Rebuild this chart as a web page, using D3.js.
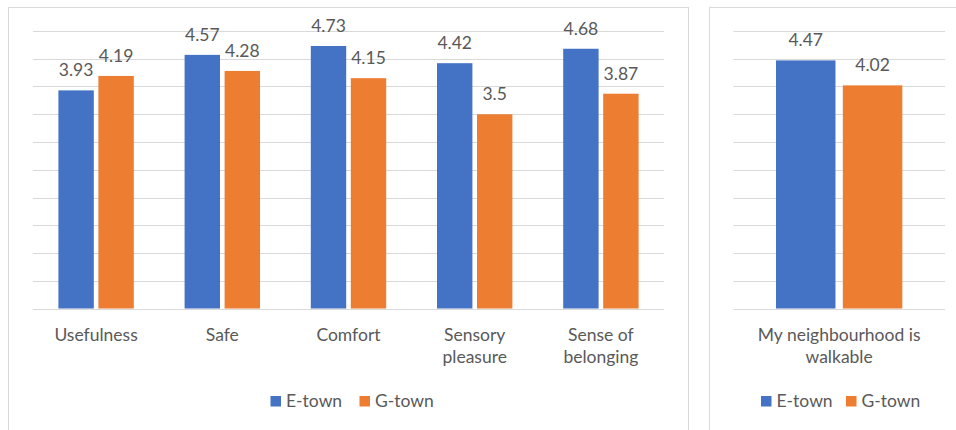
<!DOCTYPE html>
<html>
<head>
<meta charset="utf-8">
<script src="https://cdn.jsdelivr.net/npm/d3@7"></script>
<style>
  html, body { margin: 0; padding: 0; background: #ffffff; }
  svg { display: block; }
  text { font-family: Lato, "Open Sans", sans-serif; fill: #595959; }
</style>
</head>
<body>
<svg id="chart" width="956" height="430"></svg>
<script>
// Mean ratings per aspect for the two neighbourhoods
const series = ["E-town", "G-town"];
const colors = ["#4472C4", "#ED7D31"];

const aspectCategories = [["Usefulness"], ["Safe"], ["Comfort"], ["Sensory", "pleasure"], ["Sense of", "belonging"]];
const eTownAspects = [3.93, 4.57, 4.73, 4.42, 4.68];
const gTownAspects = [4.19, 4.28, 4.15, 3.5, 3.87];

const walkCategories = [["My neighbourhood is", "walkable"]];
const eTownWalk = [4.47];
const gTownWalk = [4.02];

const yTicks = [0, 0.5, 1, 1.5, 2, 2.5, 3, 3.5, 4, 4.5, 5];

const svg = d3.select("#chart");
const FS = 17.5;

function panel(cfg) {
  const g = svg.append("g");

  // panel frame
  g.append("rect")
    .attr("x", cfg.frame[0]).attr("y", cfg.frame[1])
    .attr("width", cfg.frame[2]).attr("height", cfg.frame[3])
    .attr("fill", "none").attr("stroke", "#d9d9d9").attr("stroke-width", 1);

  const y = d3.scaleLinear().domain([0, 5]).range([cfg.bottom, cfg.top]);
  const keys = cfg.categories.map(c => c.join(" "));
  const x0 = d3.scaleBand().domain(keys).range([cfg.left, cfg.right]).paddingInner(0).paddingOuter(0);
  const inner = d3.scaleBand().domain(series)
    .range([cfg.barOffset, x0.bandwidth() - cfg.barOffset]).paddingInner(cfg.innerPad);

  // horizontal gridlines
  g.append("g").selectAll("line").data(yTicks).join("line")
    .attr("x1", cfg.left).attr("x2", cfg.right)
    .attr("y1", d => Math.round(y(d)) + 0.5).attr("y2", d => Math.round(y(d)) + 0.5)
    .attr("stroke", "#d9d9d9").attr("stroke-width", 1);

  const rows = cfg.categories.map((c, i) => ({ key: keys[i], lines: c, vals: [cfg.e[i], cfg.g[i]] }));

  const groups = g.append("g").selectAll("g").data(rows).join("g")
    .attr("transform", d => `translate(${x0(d.key)},0)`);

  const bars = groups.selectAll("g.bar").data(d => d.vals.map((v, j) => ({ s: series[j], v, j })))
    .join("g").attr("class", "bar");

  bars.append("rect")
    .attr("x", d => inner(d.s))
    .attr("width", inner.bandwidth())
    .attr("y", d => y(d.v))
    .attr("height", d => y(0) - y(d.v))
    .attr("fill", d => colors[d.j]);

  bars.append("text")
    .attr("x", d => inner(d.s) + inner.bandwidth() / 2)
    .attr("y", d => y(d.v) - 14)
    .attr("text-anchor", "middle")
    .attr("font-size", FS)
    .text(d => d.v);

  // category labels
  groups.append("text")
    .attr("x", x0.bandwidth() / 2)
    .attr("y", 340.5)
    .attr("text-anchor", "middle")
    .attr("font-size", FS)
    .selectAll("tspan").data(d => d.lines).join("tspan")
    .attr("x", x0.bandwidth() / 2)
    .attr("dy", (d, i) => i === 0 ? 0 : 22.7)
    .text(d => d);

  // legend
  const leg = g.append("g").attr("transform", `translate(${cfg.legendX},0)`);
  const items = leg.selectAll("g").data(series).join("g")
    .attr("transform", (d, i) => `translate(${i * cfg.legendStep},0)`);
  items.append("rect").attr("x", 0).attr("y", 396).attr("width", 10.5).attr("height", 10.5)
    .attr("fill", (d, i) => colors[i]);
  items.append("text").attr("x", 15.5).attr("y", 407).attr("font-size", FS).text(d => d);
}

panel({
  frame: [8.5, 7.5, 680, 440],
  left: 33, right: 664, top: 31, bottom: 308.5,
  categories: aspectCategories, e: eTownAspects, g: gTownAspects,
  barOffset: 25.4, innerPad: 0.115,
  legendX: 270.5, legendStep: 89
});

panel({
  frame: [709.5, 7.5, 260, 440],
  left: 733.3, right: 945, top: 31, bottom: 308.5,
  categories: walkCategories, e: eTownWalk, g: gTownWalk,
  barOffset: 42.7, innerPad: 0.11,
  legendX: 761, legendStep: 85
});
</script>
</body>
</html>
